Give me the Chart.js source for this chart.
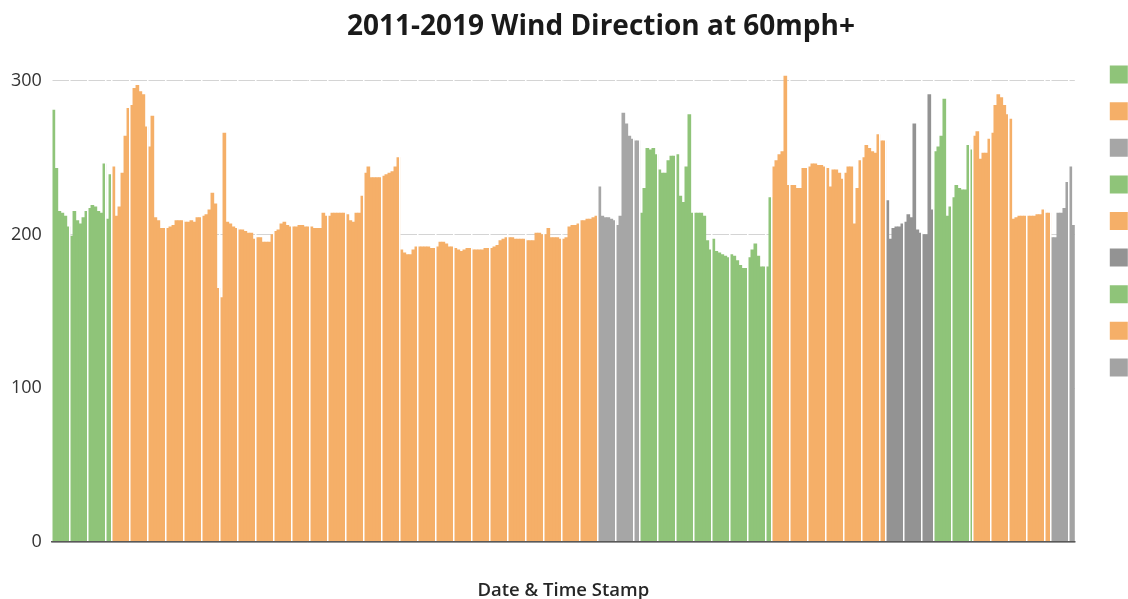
<!DOCTYPE html>
<html>
<head>
<meta charset="utf-8">
<title>2011-2019 Wind Direction at 60mph+</title>
<script src="https://cdn.jsdelivr.net/npm/chart.js@4.4.1/dist/chart.umd.min.js"></script>
<style>
    html, body { margin: 0; padding: 0; background: #fff; overflow: hidden; }
    #wrap { width: 1202px; height: 599px; }
</style>
</head>
<body>
<div id="wrap"><canvas id="windChart" width="1202" height="599"></canvas></div>
<script>
        // Wind direction (degrees) of each 60mph+ reading, one array per year
        const years = ['2011', '2012', '2013', '2014', '2015', '2016', '2017', '2018', '2019'];
        const y2011 = [281, 243, 215, 214, 212, 205, 199, 215, 209, 207, 211, 215, 217, 219, 218, 215, 214, 246, 210, 239];
        const y2012 = [244, 212, 218, 240, 264, 282, 284, 295, 297, 293, 291, 270, 257, 277, 211, 209, 204, 204, 204, 205,
            206, 209, 209, 209, 208, 208, 209, 208, 211, 211, 212, 213, 216, 227, 220, 165, 159, 266, 208, 207,
            205, 204, 203, 203, 202, 201, 201, 197, 198, 198, 195, 195, 195, 200, 202, 203, 207, 208, 206, 205,
            205, 205, 206, 206, 205, 205, 205, 204, 204, 204, 214, 212, 212, 214, 214, 214, 214, 214, 213, 209,
            208, 214, 214, 225, 240, 244, 237, 237, 237, 237, 238, 239, 240, 241, 244, 250, 190, 188, 187, 187,
            190, 192, 192, 192, 192, 192, 191, 191, 192, 195, 195, 194, 192, 192, 191, 190, 189, 190, 191, 191,
            190, 190, 190, 190, 191, 191, 191, 192, 193, 196, 197, 198, 198, 198, 197, 197, 197, 197, 196, 196,
            196, 201, 201, 200, 200, 204, 198, 198, 198, 197, 197, 198, 205, 206, 206, 207, 209, 209, 210, 210,
            211, 212];
        const y2013 = [231, 212, 211, 211, 210, 209, 206, 212, 279, 272, 264, 262, 261, 261];
        const y2014 = [214, 230, 256, 255, 256, 252, 242, 240, 240, 248, 251, 251, 252, 225, 221, 244, 278, 214, 214, 214,
            214, 212, 196, 190, 197, 189, 188, 187, 186, 185, 187, 186, 183, 180, 178, 178, 185, 190, 194, 186,
            179, 179, 179, 224];
        const y2015 = [244, 248, 252, 254, 303, 232, 232, 232, 230, 230, 243, 243, 244, 246, 246, 245, 245, 244, 243, 231,
            242, 242, 240, 236, 240, 244, 244, 207, 230, 248, 250, 258, 256, 254, 253, 265, 261, 261];
        const y2016 = [222, 197, 204, 205, 205, 207, 208, 213, 211, 272, 203, 201, 200, 200, 291, 216];
        const y2017 = [254, 257, 264, 288, 212, 218, 224, 232, 230, 229, 229, 258, 255];
        const y2018 = [264, 267, 249, 253, 253, 262, 266, 284, 291, 289, 284, 278, 275, 210, 211, 212, 212, 212, 212, 212,
            212, 213, 213, 216, 214, 214];
        const y2019 = [198, 198, 214, 214, 217, 234, 244, 206];
        const yTicks = [0, 100, 200, 300];

        const yearValues = [y2011, y2012, y2013, y2014, y2015, y2016, y2017, y2018, y2019];
        const yearColors = ['#8fc479', '#f5af68', '#a6a6a6', '#8fc479', '#f5af68', '#939393', '#8fc479', '#f5af68', '#a3a3a3'];

        // one category per reading, years laid end to end
        const labels = [];
        const segStarts = [];
        yearValues.forEach((vals, i) => {
            segStarts.push(labels.length);
            vals.forEach((v, j) => labels.push(years[i] + ' #' + (j + 1)));
        });

        const datasets = yearValues.map((vals, i) => {
            const data = new Array(labels.length).fill(null);
            vals.forEach((v, j) => { data[segStarts[i] + j] = v; });
            return {
                label: years[i],
                data: data,
                backgroundColor: yearColors[i],
                borderWidth: 0,
                barPercentage: 1,
                categoryPercentage: 1,
                grouped: false
            };
        });

        // thin white separators every 6 readings, restarting each year
        function isSeparator(index) {
            if (index === undefined) return false;
            let start = 0;
            segStarts.forEach(s => { if (s <= index) start = s; });
            return (index - start) % 6 === 0;
        }

        const ctx = document.getElementById('windChart').getContext('2d');
        const windChart = new Chart(ctx, {
            type: 'bar',
            data: { labels: labels, datasets: datasets },
            options: {
                responsive: false,
                animation: false,
                layout: { padding: { left: 1, right: 1 } },
                plugins: {
                    title: {
                        display: true,
                        text: '2011-2019 Wind Direction at 60mph+',
                        color: '#1a1a1a',
                        font: { family: 'Open Sans', size: 28, weight: 'bold' },
                        padding: { top: 10, bottom: 6.4 }
                    },
                    legend: {
                        position: 'right',
                        align: 'start',
                        fullSize: false,
                        maxWidth: 103.8,
                        labels: {
                            boxWidth: 18,
                            boxHeight: 18,
                            padding: 12.6,
                            color: '#404040',
                            font: { family: 'Open Sans', size: 24 }
                        }
                    },
                    tooltip: { enabled: false }
                },
                scales: {
                    x: {
                        grid: {
                            z: 1,
                            color: c => isSeparator(c.index) ? '#ffffff' : 'rgba(255,255,255,0)',
                            lineWidth: 1.5,
                            drawTicks: false
                        },
                        border: { color: '#595959', width: 1.5, z: 1 },
                        ticks: { display: false },
                        title: {
                            display: true,
                            text: 'Date & Time Stamp',
                            color: '#262626',
                            font: { family: 'Open Sans', size: 18.5, weight: '600' },
                            padding: { top: 37.8, bottom: -3 }
                        }
                    },
                    y: {
                        min: 0,
                        max: 320,
                        grid: { color: '#d4d4d4', drawTicks: false },
                        border: { display: false },
                        afterBuildTicks: s => { s.ticks = yTicks.map(v => ({ value: v })); },
                        ticks: {
                            padding: 10,
                            color: '#333333',
                            font: { family: 'Open Sans', size: 18 }
                        }
                    },
                    y2: {
                        display: true,
                        position: 'right',
                        grid: { display: false },
                        border: { display: false },
                        ticks: { display: false },
                        afterFit: s => { s.width = 22.4; }
                    }
                }
            }
        });
</script>
</body>
</html>
